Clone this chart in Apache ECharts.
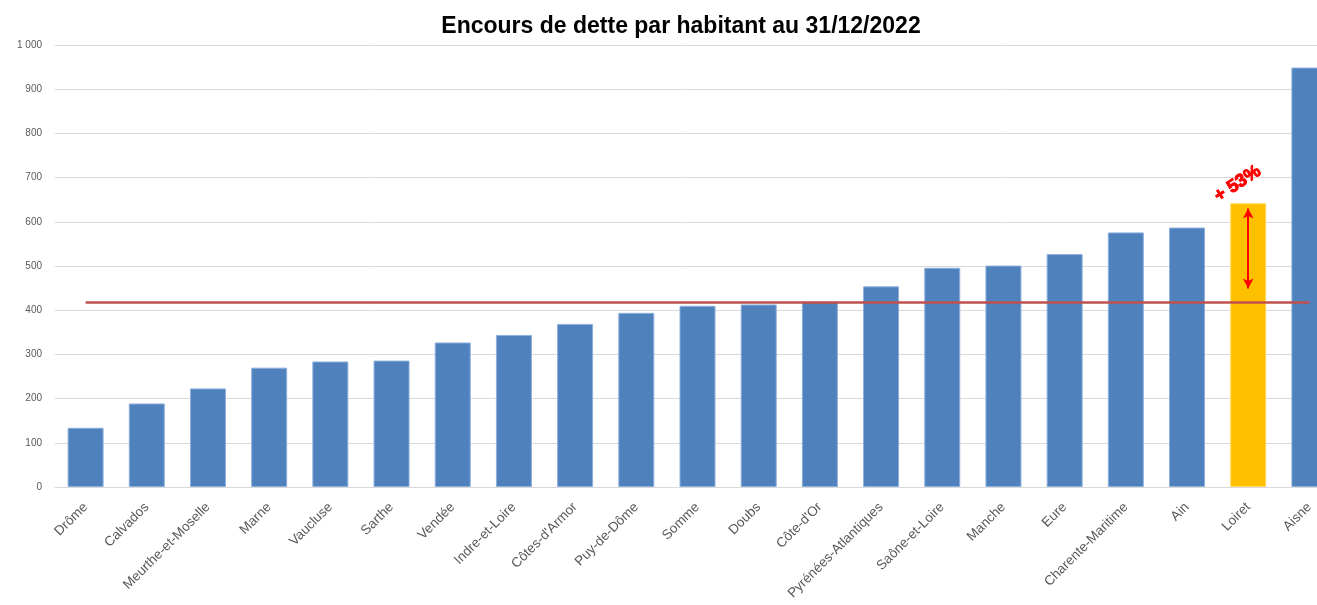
<!DOCTYPE html>
<html>
<head>
<meta charset="utf-8">
<script src="https://cdn.jsdelivr.net/npm/echarts@6/dist/echarts.min.js"></script>
<style>
  html, body { margin: 0; padding: 0; background: #ffffff; }
  #chart { width: 1317px; height: 605px; }
</style>
</head>
<body>
<div id="chart"></div>
<script>
// Départements, sorted by debt per inhabitant (€)
const departements = [
  'Drôme', 'Calvados', 'Meurthe-et-Moselle', 'Marne', 'Vaucluse', 'Sarthe',
  'Vendée', 'Indre-et-Loire', "Côtes-d'Armor", 'Puy-de-Dôme', 'Somme', 'Doubs',
  "Côte-d'Or", 'Pyrénées-Atlantiques', 'Saône-et-Loire', 'Manche', 'Eure',
  'Charente-Maritime', 'Ain', 'Loiret', 'Aisne'
];
const encours = [
  134, 189, 223, 270, 284, 286,
  327, 344, 369, 394, 410, 413,
  419, 454, 496, 501, 527,
  576, 587, 642, 949
];
// Average of the group (horizontal reference line)
const moyenne = 419;
// Highlighted département and the extent of its comparison arrow
const focus = 'Loiret';
const flecheHaut = 630;
const flecheBas = 449;
const yTicks = [0, 100, 200, 300, 400, 500, 600, 700, 800, 900, 1000];

const focusIdx = departements.indexOf(focus);
const ecart = Math.round((encours[focusIdx] / moyenne - 1) * 100);

const fmtMilliers = v => String(v).replace(/\B(?=(\d{3})+(?!\d))/g, ' ');

const barData = encours.map((v, i) => {
  if (i !== focusIdx) return v;
  return {
    value: v,
    itemStyle: { color: '#FFC000', borderColor: '#FFD966' },
    label: {
      show: true,
      position: 'top',
      formatter: '+ ' + ecart + '%',
      rotate: 33,
      color: '#FF0000',
      fontSize: 18,
      fontWeight: 'bold',
      fontFamily: 'Liberation Sans',
      textBorderColor: '#FF0000',
      textBorderWidth: 1,
      offset: [-1, -9]
    }
  };
});

const chart = echarts.init(document.getElementById('chart'), null, { renderer: 'canvas' });
chart.setOption({
  animation: false,
  backgroundColor: '#ffffff',
  title: {
    text: 'Encours de dette par habitant au 31/12/2022',
    left: 676,
    top: 10,
    textAlign: 'center',
    textStyle: {
      fontFamily: 'Liberation Sans',
      fontSize: 23,
      fontWeight: 'bold',
      color: '#000000'
    }
  },
  grid: {
    left: 55,
    top: 45,
    width: 1285,
    height: 442,
    outerBoundsMode: 'none'
  },
  xAxis: {
    type: 'category',
    data: departements,
    axisLine: { show: true, lineStyle: { color: '#d9d9d9', width: 1 } },
    axisTick: { show: false },
    axisLabel: {
      interval: 0,
      rotate: 45,
      margin: 18,
      color: '#595959',
      fontSize: 13.5,
      fontFamily: 'Liberation Sans'
    }
  },
  yAxis: {
    type: 'value',
    min: yTicks[0],
    max: yTicks[yTicks.length - 1],
    interval: 100,
    axisLine: { show: false },
    axisTick: { show: false },
    splitLine: { lineStyle: { color: '#d9d9d9', width: 1 } },
    axisLabel: {
      margin: 13,
      color: '#595959',
      fontSize: 10,
      fontFamily: 'Liberation Sans',
      formatter: v => fmtMilliers(v)
    }
  },
  series: [
    {
      type: 'bar',
      data: barData,
      barWidth: 36,
      itemStyle: { color: '#4F81BD', borderColor: '#8DB0DC', borderWidth: 1 },
      markLine: {
        silent: true,
        symbol: ['none', 'none'],
        label: { show: false },
        data: [
          [
            { coord: [departements[0], moyenne], lineStyle: { color: '#C0504D', width: 2.5, type: 'solid' } },
            { coord: [departements[departements.length - 1], moyenne] }
          ],
          [
            { coord: [focus, flecheHaut], symbol: 'arrow', lineStyle: { color: '#FF0000', width: 2, type: 'solid' } },
            { coord: [focus, flecheBas], symbol: 'arrow' }
          ]
        ],
        symbolSize: [8, 10]
      },
      z: 2
    }
  ]
});
</script>
</body>
</html>
